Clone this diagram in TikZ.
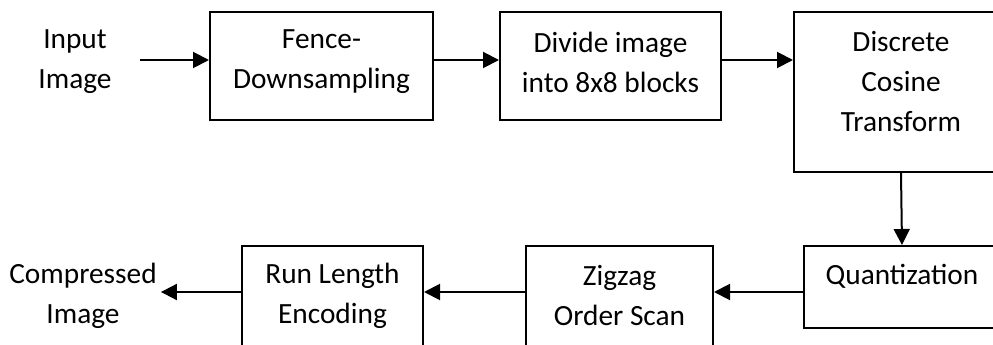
\documentclass[tikz,border=0pt]{standalone}
\usepackage{fontspec}
\setmainfont{Carlito}
\usepackage{tikz}
\usetikzlibrary{positioning, arrows.meta, calc}
\tikzset{
    stage/.style={draw, line width=1.5pt, inner sep=0pt},
    txt/.style={align=center, inner sep=5pt, font=\fontsize{22pt}{30pt}\selectfont},
    flow/.style={line width=1.5pt, -{Triangle[length=12pt, width=12pt]}},
}

\begin{document}
\begin{tikzpicture}[x=0.75pt, y=-0.75pt]
    \useasboundingbox (0,0) rectangle (993,345);
    \clip (0,0) rectangle (993,345);

    % top row
    \node[txt] (input) at (75,62) {Input\\Image};
    \node[stage, minimum width=167.25pt, minimum height=81pt] (fence) at (321.5,66) {};
    \node[txt] (fencetext) at (321.5,62) {Fence-\\Downsampling};
    \node[stage, minimum width=165.75pt, minimum height=81pt] (divide) at (610.5,66) {};
    \node[txt] (dividetext) at (610.5,62) {Divide image\\into 8x8 blocks};
    \node[stage, minimum width=160.5pt, minimum height=120pt] (dct) at (901,92) {};
    \node[txt] (dcttext) at (901,82) {Discrete\\Cosine\\Transform};

    % bottom row
    \node[stage, minimum width=147pt, minimum height=61.5pt] (quant) at (902,287) {};
    \node[txt] (quanttext) at (902,276) {Quantization};
    \node[stage, minimum width=140.25pt, minimum height=81pt] (zigzag) at (619.5,300) {};
    \node[txt] (zigzagtext) at (619.5,296) {Zigzag\\Order Scan};
    \node[stage, minimum width=135.75pt, minimum height=81pt] (runlen) at (332.5,300) {};
    \node[txt] (runlentext) at (332.5,296) {Run Length\\Encoding};
    \node[txt, inner sep=3pt] (output) at (83,296) {Compressed\\Image};

    \draw[flow] ([xshift=16pt,yshift=1.5pt]input.east) -- ([yshift=4.5pt]fence.west);
    \draw[flow] ([yshift=4.5pt]fence.east) -- ([yshift=4.5pt]divide.west);
    \draw[flow] ([yshift=4.5pt]divide.east) -- ([yshift=4.5pt]divide.east -| dct.west);
    \draw[flow] (dct.south) -- (quant.north);
    \draw[flow] ([yshift=-3.75pt]quant.west) -- ([yshift=-3.75pt]quant.west -| zigzag.east);
    \draw[flow] ([yshift=6pt]zigzag.west) -- ([yshift=6pt]runlen.east);
    \draw[flow] ([yshift=6pt]runlen.west) -- ([yshift=6pt]runlen.west -| output.east);
\end{tikzpicture}
\end{document}
